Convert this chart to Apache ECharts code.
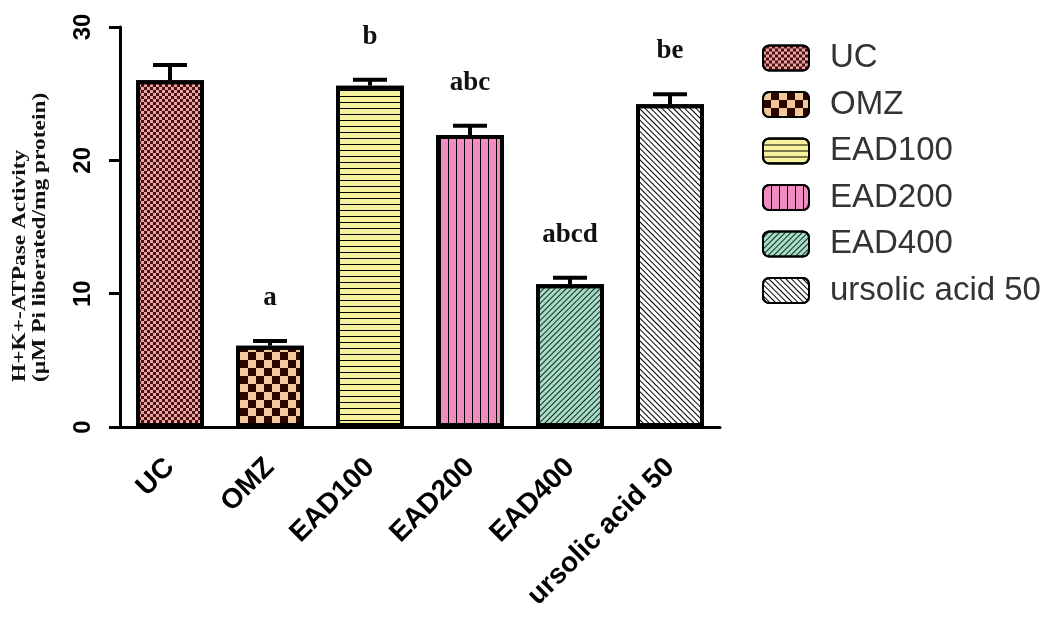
<!DOCTYPE html>
<html>
<head>
<meta charset="utf-8">
<script src="https://cdn.jsdelivr.net/npm/echarts@6/dist/echarts.min.js"></script>
<style>
  html, body { margin: 0; padding: 0; background: #fff; }
  #chart { width: 1050px; height: 619px; }
</style>
</head>
<body>
<div id="chart"></div>
<script>
// Treatment groups and H+K+-ATPase activity (mean ± SEM)
const categories = ['UC', 'OMZ', 'EAD100', 'EAD200', 'EAD400', 'ursolic acid 50'];
const means = [26.0, 6.1, 25.6, 21.9, 10.7, 24.2];
const errors = [1.15, 0.35, 0.45, 0.7, 0.5, 0.75];
const letters = ['', 'a', 'b', 'abc', 'abcd', 'be'];
const yTicks = [0, 10, 20, 30];
const yTitle = ['H+K+-ATPase Activity', '(µM Pi liberated/mg protein)'];

// Fill colour and hatch pattern for each group
const fills = ['#e9a4a4', '#f3c99c', '#f7f29e', '#f08cc0', '#a9dcc6', '#ffffff'];
const decals = [
  { symbol: 'rect', symbolSize: 1, color: '#4a0f0f', dashArrayX: [[3, 3], [0, 3, 3, 0]], dashArrayY: [3, 0] },
  { symbol: 'rect', symbolSize: 1, color: '#2a0800', dashArrayX: [[8, 8], [0, 8, 8, 0]], dashArrayY: [8, 0] },
  { symbol: 'rect', symbolSize: 1, color: '#000000', dashArrayX: [1, 0], dashArrayY: [1, 5] },
  { symbol: 'rect', symbolSize: 1, color: '#000000', dashArrayX: [1, 7], dashArrayY: [1, 0] },
  { symbol: 'rect', symbolSize: 1, color: '#0d2a20', dashArrayX: [1, 0], dashArrayY: [1, 3], rotation: -Math.PI / 4 },
  { symbol: 'rect', symbolSize: 1, color: '#000000', dashArrayX: [1, 0], dashArrayY: [1, 3], rotation: Math.PI / 4 }
];

const serifBold = '"Liberation Serif", "Times New Roman", serif';
const sans = '"Liberation Sans", Arial, sans-serif';

const barSeries = categories.map((name, i) => ({
  name: name,
  type: 'bar',
  stack: 'groups',
  barWidth: 68,
  data: categories.map((c, j) => (j === i ? means[i] : '-')),
  itemStyle: {
    color: fills[i],
    borderColor: '#000',
    borderWidth: 4,
    decal: decals[i]
  },
  emphasis: { disabled: true }
}));

// Error bars with significance letters above each cap
const errorSeries = {
  type: 'custom',
  name: 'sem',
  z: 5,
  data: categories.map((c, i) => [i, means[i], errors[i]]),
  encode: { x: 0, y: [1, 2] },
  renderItem: function (params, api) {
    const i = api.value(0);
    const top = api.coord([i, api.value(1) + api.value(2)]);
    const base = api.coord([i, api.value(1)]);
    const half = 17;
    const children = [
      { type: 'line', shape: { x1: base[0], y1: base[1], x2: top[0], y2: top[1] },
        style: { stroke: '#000', lineWidth: 4 } },
      { type: 'line', shape: { x1: top[0] - half, y1: top[1], x2: top[0] + half, y2: top[1] },
        style: { stroke: '#000', lineWidth: 4 } }
    ];
    const letter = letters[params.dataIndex];
    if (letter) {
      children.push({
        type: 'text',
        x: top[0], y: top[1] - 43,
        style: {
          text: letter,
          font: 'bold 27px ' + serifBold,
          fill: '#111',
          align: 'center',
          verticalAlign: 'middle'
        }
      });
    }
    return { type: 'group', children: children };
  }
};

// Condensed two-line axis title, reading bottom to top
const titleGraphics = yTitle.map((line, k) => ({
  type: 'text',
  x: 20 + k * 20,
  y: 382,
  rotation: Math.PI / 2,
  scaleX: 1.3,
  style: {
    text: line,
    font: 'bold 18px ' + serifBold,
    fill: '#111',
    align: 'left',
    verticalAlign: 'middle'
  }
}));

const chart = echarts.init(document.getElementById('chart'), null, { renderer: 'canvas' });
chart.setOption({
  animation: false,
  backgroundColor: '#ffffff',
  grid: { left: 120, top: 27, width: 600, bottom: 192, containLabel: false },
  legend: {
    orient: 'vertical',
    left: 757,
    top: 36,
    itemWidth: 46,
    itemHeight: 25,
    itemGap: 12.5,
    icon: 'roundRect',
    selectedMode: false,
    data: categories,
    textStyle: {
      fontFamily: sans,
      fontSize: 33,
      color: '#333',
      lineHeight: 34,
      padding: [0, 0, 0, 16]
    }
  },
  xAxis: {
    type: 'category',
    data: categories,
    axisLine: { lineStyle: { color: '#000', width: 3 } },
    axisTick: { alignWithLabel: true, length: 11, lineStyle: { color: '#000', width: 3 } },
    axisLabel: {
      rotate: 45,
      margin: 36,
      interval: 0,
      color: '#000',
      fontWeight: 'bold',
      fontSize: 28,
      fontFamily: sans
    }
  },
  yAxis: {
    type: 'value',
    min: yTicks[0],
    max: yTicks[yTicks.length - 1],
    interval: 10,
    splitLine: { show: false },
    axisLine: { show: true, lineStyle: { color: '#000', width: 3 } },
    axisTick: { show: true, length: 11, lineStyle: { color: '#000', width: 3 } },
    axisLabel: {
      rotate: 90,
      margin: 25,
      color: '#000',
      fontWeight: 'bold',
      fontSize: 24,
      fontFamily: sans
    }
  },
  graphic: titleGraphics,
  series: barSeries.concat([errorSeries])
});
</script>
</body>
</html>
